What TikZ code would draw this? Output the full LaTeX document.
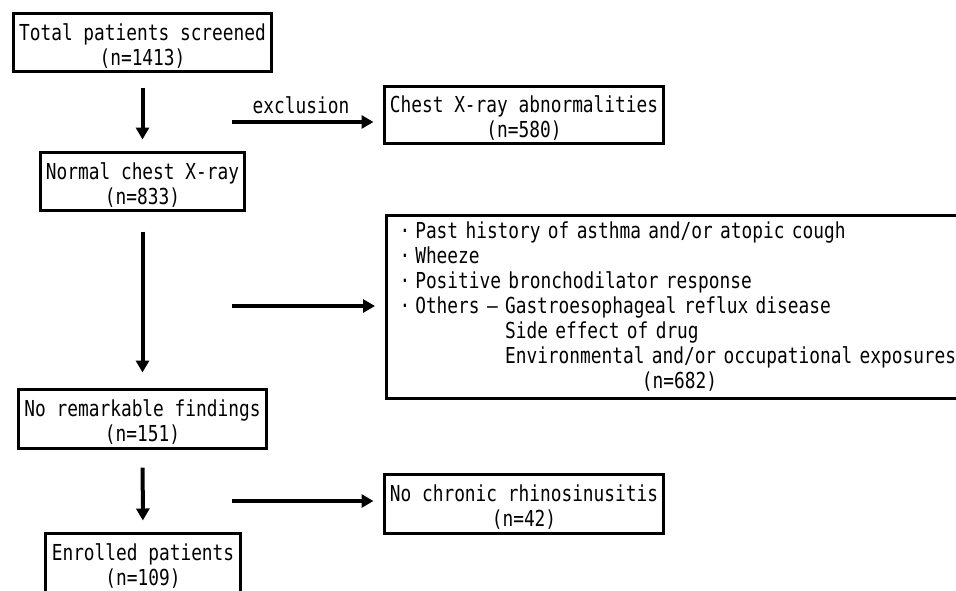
\documentclass[tikz,border=0pt]{standalone}
\usepackage{fontspec}
\setmainfont[FakeStretch=0.81]{DejaVu Sans Mono}
\usetikzlibrary{arrows.meta}
\newcommand{\bul}{\makebox[20.8pt]{·}}
\newcommand{\boxstrut}{\rule{0pt}{23pt}}

\tikzset{
  box/.style={draw, line width=3pt, align=center, inner sep=0pt},
  flow/.style={line width=4pt, -{Triangle[length=12pt,width=13pt]}},
}

\begin{document}
\begin{tikzpicture}[x=1pt, y=-1pt, font=\fontsize{22}{25}\selectfont]
  \useasboundingbox (0,0) rectangle (956,590);
  % Main steps
  \node[box, minimum width=258pt, minimum height=58pt] (total) at (142.5,42.5) {\boxstrut Total patients screened\\(n=1413)};
  \node[box, minimum width=204pt, minimum height=58pt] (normal) at (142.5,181.5) {\boxstrut Normal chest X-ray\\(n=833)};
  \node[box, minimum width=248pt, minimum height=59pt] (noremark) at (142.5,419) {\boxstrut No remarkable findings\\(n=151)};
  \node[box, minimum width=195pt, minimum height=59pt] (enrolled) at (143,563) {\boxstrut Enrolled patients\\(n=109)};
  % Excluded groups
  \node[box, minimum width=279pt, minimum height=57pt] (chest) at (524,115) {\boxstrut Chest X-ray abnormalities\\(n=580)};
  \node[box, anchor=north west, align=left, text width=570pt, inner xsep=8.5pt, minimum height=183pt] (history) at (384.5,213.5) {%
    \bul Past history of asthma and/or atopic cough\\
    \bul Wheeze\\
    \bul Positive bronchodilator response\\
    \bul Others – Gastroesophageal reflux disease\\
    \phantom{\bul Others – }Side effect of drug\\
    \phantom{\bul Others – }Environmental and/or occupational exposures\\
    \makebox[\linewidth]{(n=682)}};
  \node[box, minimum width=279pt, minimum height=59pt] (chronic) at (524,504) {\boxstrut No chronic rhinosinusitis\\(n=42)};
  % Arrows down
  \draw[flow, shorten <=14.5pt, shorten >=11.5pt] (total) -- (normal);
  \draw[flow, shorten <=19.5pt, shorten >=15.5pt] (normal) -- (noremark);
  \draw[flow, shorten <=17.5pt, shorten >=11.5pt] (noremark) -- (enrolled);
  % Arrows to the right
  \coordinate (exA) at (232,122);
  \coordinate (exB) at (232,306);
  \coordinate (exC) at (232,501);
  \draw[flow, shorten >=9.5pt] (exA) -- (exA -| chest.west);
  \draw[flow, shorten >=9.5pt] (exB) -- (exB -| history.west);
  \draw[flow, shorten >=9.5pt] (exC) -- (exC -| chronic.west);
  \node (excl) at (301,105) {exclusion};
\end{tikzpicture}
\end{document}
